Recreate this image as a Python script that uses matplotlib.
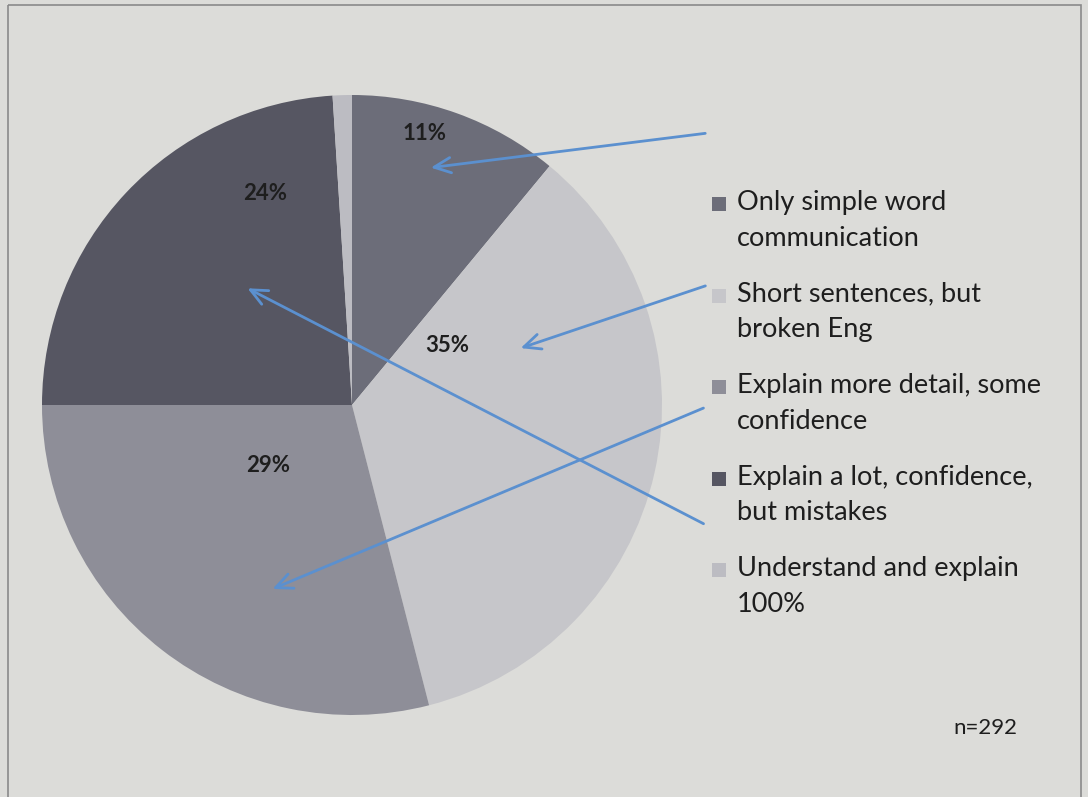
import matplotlib
matplotlib.use("Agg")
import matplotlib.pyplot as plt
from matplotlib.patches import Rectangle

# ---- data ----
categories = [
    "Only simple word\ncommunication",
    "Short sentences, but\nbroken Eng",
    "Explain more detail, some\nconfidence",
    "Explain a lot, confidence,\nbut mistakes",
    "Understand and explain\n100%",
]
shares = [11, 35, 29, 24, 1]
pct_labels = ["11%", "35%", "29%", "24%", ""]
note = "n=292"

# ---- styling ----
colors = ["#6c6d79", "#c6c6ca", "#8e8e98", "#565662", "#bcbcc2"]
bg = "#dcdcd9"
arrow_color = "#5b90cf"
plt.rcParams["font.family"] = ["Lato", "DejaVu Sans"]

W, H = 1088, 797
fig = plt.figure(figsize=(W / 100, H / 100), dpi=100)
fig.patch.set_facecolor(bg)

# pie axes: centre (352,405) px, radius 310 px
cx, cy, r = 352, 405, 310
ax = fig.add_axes([(cx - r) / W, (H - cy - r) / H, 2 * r / W, 2 * r / H])
wedges, _ = ax.pie(shares, colors=colors, startangle=90, counterclock=False,
                   radius=1, wedgeprops=dict(linewidth=0))
ax.set_xlim(-1, 1)
ax.set_ylim(-1, 1)
ax.set_aspect("equal")
ax.axis("off")

# percentage labels (pixel layout of the reference)
label_px = [(425, 133), (447, 346), (268, 466), (265, 193), None]
for txt, pos in zip(pct_labels, label_px):
    if pos is None or not txt:
        continue
    ax.text((pos[0] - cx) / r, (cy - pos[1]) / r, txt, ha="center", va="center",
            fontsize=16, fontweight="bold", color="#1e1e1e")

# overlay axes in pixel coordinates
ov = fig.add_axes([0, 0, 1, 1], facecolor="none")
ov.set_xlim(0, W)
ov.set_ylim(H, 0)
ov.axis("off")

# chart frame
ov.add_patch(Rectangle((8, 5), 1073, 800, fill=False, edgecolor="#8a8a8a", lw=1.2))

# legend (manual, first line aligned with marker)
leg_y0, leg_step = 204, 91.5
for i, (lab, col) in enumerate(zip(categories, colors)):
    y = leg_y0 + i * leg_step
    ov.add_patch(Rectangle((712, y - 7), 14, 14, facecolor=col, edgecolor="none"))
    ov.text(737, y - 14, lab, ha="left", va="top", fontsize=19.5,
            color="#1e1e1e", linespacing=1.55)

ov.text(985, 728, note, ha="center", va="center", fontsize=16, color="#1e1e1e")

# hand-drawn style arrows
arrows = [((708, 133), (428, 168)),
          ((708, 285), (518, 349)),
          ((706, 407), (270, 590)),
          ((706, 525), (245, 287))]
for tail, head in arrows:
    ov.annotate("", xy=head, xytext=tail, xycoords="data", textcoords="data",
                arrowprops=dict(arrowstyle="->,head_length=1.2,head_width=0.55",
                                color=arrow_color, lw=2.0))

fig.savefig("out.png", dpi=100, facecolor=bg)
